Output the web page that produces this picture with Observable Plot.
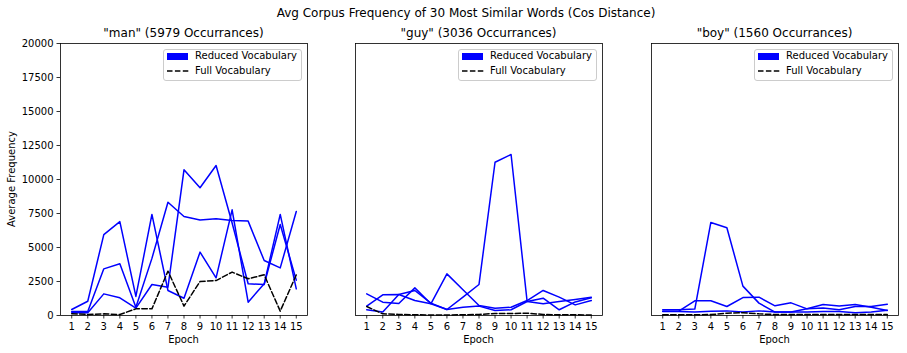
<!DOCTYPE html>
<html><head><meta charset="utf-8">
<script src="https://cdn.jsdelivr.net/npm/d3@7"></script>
<script src="https://cdn.jsdelivr.net/npm/@observablehq/plot@0.6"></script>
<style>
body{margin:0;background:#fff;}
#fig{position:relative;width:907px;height:353px;font-family:"DejaVu Sans",sans-serif;color:#000;overflow:hidden;background:#fff;}
#fig svg.chart{position:absolute;top:0;overflow:visible;}
.t{position:absolute;white-space:nowrap;transform:translate(-50%,-50%);line-height:1;}
.lg{position:absolute;width:137px;height:30px;border:1px solid #ccc;border-radius:3px;background:rgba(255,255,255,0.8);font-size:10px;}
.lg .p{position:absolute;left:3px;top:3px;width:21px;height:7px;background:#0000ff;}
.lg .a{position:absolute;left:31px;top:0px;line-height:12px;white-space:nowrap;}
.lg .b{position:absolute;left:31px;top:15px;line-height:12px;white-space:nowrap;}
#fig .lg svg{position:absolute;left:3px;top:19px;}
</style></head><body><div id="fig"></div>
<script>
// ---- data ----
const epochs = [1,2,3,4,5,6,7,8,9,10,11,12,13,14,15];
const yTicks = [0,2500,5000,7500,10000,12500,15000,17500,20000];

const panelTitles = ['"man" (5979 Occurrances)', '"guy" (3036 Occurrances)', '"boy" (1560 Occurrances)'];

const manReducedA = [440,1050,5950,6900,1400,7430,1840,1270,4660,2770,7770,980,2330,7430,1960];
const manReducedB = [290,290,3430,3800,610,4200,8330,7280,7030,7110,6990,6940,4040,3500,7650];
const manReducedC = [200,200,1590,1300,540,2280,2080,10710,9390,11030,6800,2330,2280,6690,2600];
const manFull     = [130,80,120,70,490,490,3260,690,2500,2570,3190,2700,2990,320,2990];

const guyReducedA = [420,250,1540,1840,910,440,1350,2280,11270,11840,1030,860,1030,1180,1350];
const guyReducedB = [1590,980,880,2030,860,3060,1890,740,540,610,1100,1840,1350,780,1100];
const guyReducedC = [690,1520,1540,1100,860,440,610,690,370,420,1030,1270,420,1000,1300];
const guyFull     = [660,120,80,50,40,40,50,80,150,150,170,80,50,50,40];

const boyReducedA = [420,420,470,6840,6450,2160,910,250,250,490,810,690,810,610,370];
const boyReducedB = [320,320,1080,1080,660,1320,1350,710,930,490,560,420,660,660,830];
const boyReducedC = [290,290,250,320,340,250,340,250,250,250,290,290,200,250,390];
const boyFull     = [50,50,50,70,170,200,120,70,70,70,70,70,70,70,70];

const panels = [
  {reduced:[manReducedA,manReducedB,manReducedC], full:manFull},
  {reduced:[guyReducedA,guyReducedB,guyReducedC], full:guyFull},
  {reduced:[boyReducedA,boyReducedB,boyReducedC], full:boyFull}
];

// ---- layout ----
const fig = document.getElementById("fig");
const axLeft = [60, 355, 651];
const axW = 247, axTop = 43, axBottom = 315, figH = 353;

function addText(txt, x, y, size, rot) {
  const d = document.createElement("div");
  d.className = "t";
  d.textContent = txt;
  d.style.left = x + "px"; d.style.top = y + "px"; d.style.fontSize = size + "px";
  if (rot) d.style.transform = "translate(-50%,-50%) rotate(-90deg)";
  fig.appendChild(d);
}

panels.forEach((p, i) => {
  const ml = i === 0 ? 60 : 10, mr = 4;
  const rows = [];
  p.reduced.forEach((arr, k) => arr.forEach((v, j) => rows.push({epoch: epochs[j], value: v, s: "r" + k})));
  const fullRows = p.full.map((v, j) => ({epoch: epochs[j], value: v}));
  const marks = [
    Plot.line(rows, {x: "epoch", y: "value", z: "s", stroke: "#0000ff", strokeWidth: 1.5}),
    Plot.line(fullRows, {x: "epoch", y: "value", stroke: "#000", strokeWidth: 1.5, strokeDasharray: "5.5,2.4"}),
    Plot.frame({stroke: "#000", strokeWidth: 0.8}),
    Plot.axisX(epochs, {tickSize: 3.5, tickPadding: 3.5, label: null, tickFormat: d => String(d), strokeWidth: 0.8})
  ];
  if (i === 0) marks.push(Plot.axisY(yTicks, {tickSize: 3.5, tickPadding: 3.5, label: null, tickFormat: d => String(d), strokeWidth: 0.8}));
  const svg = Plot.plot({
    width: ml + axW + mr, height: figH,
    marginLeft: ml, marginRight: mr, marginTop: axTop, marginBottom: figH - axBottom,
    x: {domain: [0.3, 15.7], axis: null},
    y: {domain: [0, 20000], axis: null},
    style: {fontFamily: "DejaVu Sans", fontSize: "10px", color: "#000", background: "transparent"},
    marks
  });
  svg.classList.add("chart");
  svg.style.left = (axLeft[i] - ml) + "px";
  fig.appendChild(svg);

  const cx = axLeft[i] + axW / 2;
  addText(panelTitles[i], cx, 33, 12);
  addText("Epoch", cx, 340, 10);

  const lg = document.createElement("div");
  lg.className = "lg";
  lg.style.left = (axLeft[i] + axW - 5 - 139) + "px";
  lg.style.top = "49px";
  lg.innerHTML = '<div class="p"></div><div class="a">Reduced Vocabulary</div>' +
    '<svg width="22" height="4"><line x1="0" y1="2" x2="22" y2="2" stroke="#000" stroke-width="1.5" stroke-dasharray="5.5,2.4"/></svg>' +
    '<div class="b">Full Vocabulary</div>';
  fig.appendChild(lg);
});

addText("Avg Corpus Frequency of 30 Most Similar Words (Cos Distance)", 466, 13, 12);
addText("Average Frequency", 12, 179, 10, true);
</script>
</body></html>
